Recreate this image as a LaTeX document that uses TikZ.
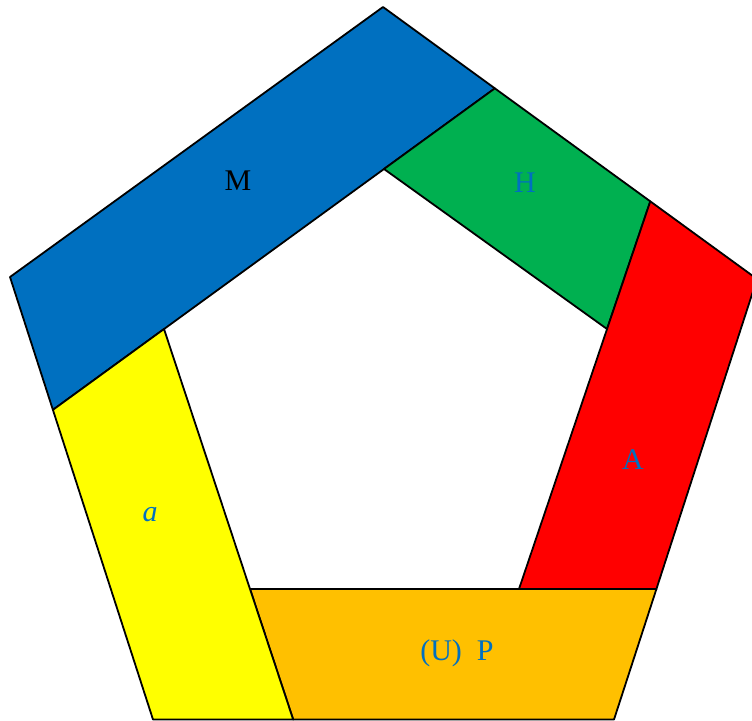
\documentclass[tikz,border=0pt]{standalone}
\usepackage{fontspec}
\setmainfont{Liberation Serif}
\definecolor{cblue}{HTML}{0070C0}
\definecolor{cgreen}{HTML}{00B050}
\definecolor{cred}{HTML}{FF0000}
\definecolor{cyel}{HTML}{FFFF00}
\definecolor{corange}{HTML}{FFC000}
\tikzset{
  piece/.style={draw=black, line width=1.8pt, line join=round},
  lbl/.style={font=\fontsize{30}{32}\selectfont, text=cblue, inner sep=0pt},
}
\begin{document}
\begin{tikzpicture}[x=1pt,y=-1pt]
\useasboundingbox (0,0) rectangle (752,720);
% outer pentagon
\coordinate (O1) at (383,7);
\coordinate (O2) at (757,279);
\coordinate (O3) at (614,719.5);
\coordinate (O4) at (153,719.5);
\coordinate (O5) at (10,277);
% inner pentagon
\coordinate (I1) at (384,169);
\coordinate (I2) at (607,329);
\coordinate (I3) at (519,589);
\coordinate (I4) at (250,589);
\coordinate (I5) at (164,329);
% extension points
\coordinate (P1) at (intersection of I5--I1 and O5--O4);
\coordinate (P2) at (intersection of I5--I1 and O1--O2);
\coordinate (P3) at (intersection of I5--I4 and O4--O3);
\coordinate (P4) at (intersection of I2--I3 and O1--O2);
\coordinate (P5) at (intersection of I4--I3 and O2--O3);
% pieces
\filldraw[piece, fill=cblue] (P1) -- (O5) -- (O1) -- (P2) -- cycle;
\filldraw[piece, fill=cgreen] (I1) -- (P2) -- (P4) -- (I2) -- cycle;
\filldraw[piece, fill=cred] (P4) -- (O2) -- (P5) -- (I3) -- cycle;
\filldraw[piece, fill=corange] (I4) -- (P5) -- (O3) -- (P3) -- cycle;
\filldraw[piece, fill=cyel] (P1) -- (I5) -- (P3) -- (O4) -- cycle;
% labels
\node[lbl, text=black] (tM) at (238,181) {M};
\node[lbl] (tH) at (525,183) {H};
\node[lbl] (tA) at (633,460) {A};
\node[lbl] (ta) at (150,515) {\itshape a};
\node[lbl] (tP) at (457,653) {(U)\ \ P};
\end{tikzpicture}
\end{document}
